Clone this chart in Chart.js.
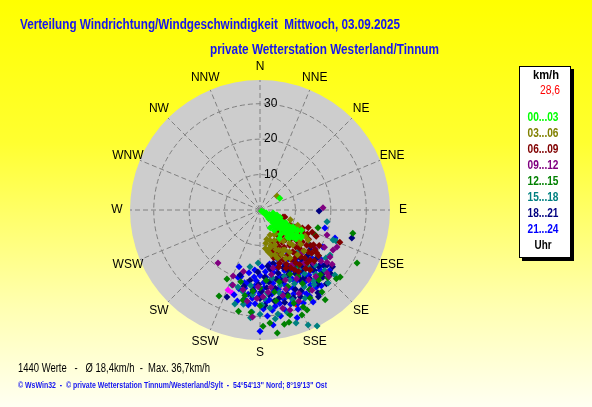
<!DOCTYPE html>
<html lang="de">
<head>
    <meta charset="UTF-8">
    <title>Verteilung Windrichtung/Windgeschwindigkeit</title>
    <style>
        html, body { margin: 0; padding: 0; background: #ffffe8; overflow: hidden; }
        #windChart { display: block; }
    </style>
    <script src="https://cdn.jsdelivr.net/npm/chart.js"></script>
</head>
<body>
    <canvas id="windChart" width="592" height="407"></canvas>
    <script>
        // Werte: [Richtung in Grad, Geschwindigkeit in km/h], je 3-Stunden-Block
        const h00_03 = [[120,0.5],[125,1],[118,1.5],[130,2],[122,2.5],[115,3],[128,3],[135,3.5],[120,4],[112,4.5],
            [126,4.5],[132,5],[118,5.5],[124,6],[110,6],[130,6.5],[138,6],[121,7],[127,7.5],[116,8],
            [133,8],[122,8.5],[128,9],[119,9.5],[125,10],[131,10.5],[121,11],[127,11.5],[118,12],[124,12.5],
            [129,13],[122,13.8],[140,9],[145,7],[150,5.8],[106,5],[103,3.8],[59,6.5],[135,11],[145.5,9.7],
            [115,2],[125,2],[120,3],[132,3],[117,4],[124,4],[130,4],[114,5],[121,5],[128,5.5],
            [135,5],[116,6.5],[123,6.5],[134,7],[118,7],[125,8],[130,8.5],[120,9],[126,9.5],[132,9.5],
            [117,10.5],[123,10.5],[128,10.8],[120,12],[126,12.8],[116,13],[124,14],[119,11.5],[130,12],[133,11.5]];
        const h03_06 = [[50.5,6.2],[158,7.6],[157,10.7],[169,12],[146,10.2],[123,7.7],[116.6,12.6],[120,14.7],[161.6,13.4],[148,13.3],
            [150,8],[162,9],[165,11],[155,12.5],[140,9],[135,11],[128,8.5],[118,10],[112,11.5],[125,13],
            [130,15],[145,14.5],[152,15.5],[138,12.5],[160,14.5],[142,7],[170,9.5],[122,16],[133,17],[108,9],
            [147,8],[155,9.5],[163,10.5],[158,12],[150,13],[143,11],[137,13.5],[132,10],[126,11],[120,12],
            [115,13],[166,13],[154,14],[148,16],[140,16.5],[128,14],[172,11],[167,8.5]];
        const h06_09 = [[135,6],[116.6,9.5],[119,14.5],[140,11],[131,15],[126,19.2],[156,13.9],[144,16.8],[135,20],[161,10.4],
            [112,24.3],[105.6,7.3],[113,16],[107,6.8],[116.6,13.3],[120,8],[125,9],[130,8.5],[138,9.5],[145,9],
            [150,10],[122,11],[128,11.5],[134,12],[140,13],[147,12.5],[153,11.5],[158,12.5],[118,12.5],[124,13.5],
            [130,13.5],[136,14.5],[142,15],[149,15],[155,15.5],[121,16],[127,16.5],[133,17],[139,17.5],[146,18],
            [152,18.5],[130,19],[138,20],[123,18],[117,15],[164,14],[160,16],[148,20.5],[142,21],[128,21],
            [119,10],[126,10.5],[132,10],[139,11],[146,11],[152,13],[157,14],[162,12],[120,14],[127,15],
            [134,15.5],[141,16],[148,16.5],[154,17],[125,17.5],[131,18],[137,18.5],[144,19],[150,19.5],[121,19.5],
            [127,20],[133,21],[140,22],[115,17.5],[116,11],[122,9.5],[129,7],[136,7.5],[143,8],[113,13],
            [156,18],[162,17],[134,9],[110,14.5]];
        const h09_12 = [[218.4,19.1],[202.2,20.1],[184,30.3],[174.4,23.3],[163.3,29.5],[133.2,26],[123.9,23.8],[135,21.2],[167.4,16.8],[88,17.8],
            [115.7,24.1],[118.7,23.5],[110.5,20.2],[129.5,14.7],[181.5,21.7],[200,22.5],[150,18],[160,21],[170,18.5],[145,24],
            [155,26],[165,25],[178,24.5],[188,26],[195,18],[140,19.5],[125,19],[142,21],[152,22],[162,23.5],
            [172,22],[182,25],[192,23],[147,27],[157,28],[167,28.5],[130,22.5],[120,21],[127,25.5],[137,17],
            [134,27],[140,24.5],[128,24]];
        const h12_15 = [[205.6,21.6],[205.5,26.9],[192,29.2],[172,35.1],[165.5,32.7],[164,30.8],[158.2,31.9],[154.8,31.2],[150.4,28.6],[144,31.3],
            [142.9,29],[129.9,29.5],[118.6,31.2],[190.7,25.9],[107,17.1],[104,27],[178.5,32.8],[139.9,25.8],[114.4,17.1],[155,20],
            [165,21],[175,20],[185,23],[150,24],[170,26],[160,28],[145,19],[195,21],[180,27],[140,22],
            [150,21.5],[160,23],[170,23.5],[180,22],[190,24.5],[135,27],[148,26.5],[162,25.5],[156,30],[168,33],
            [175,32],[185,29],[137,25],[132,29]];
        const h15_18 = [[182,15],[200.5,22.6],[196,22.6],[180,29.4],[174.2,27.8],[170.2,29.8],[157.3,35.2],[153.8,36.5],[122.7,23.5],[137,28.2],
            [100,19.2],[112.2,23.2],[178.8,26.8],[190,16.3],[112.3,22.3],[162.3,33.5],[184.5,28.9],[150,19],[160,20],[170,19.5],
            [145,22],[155,23],[165,22],[175,23.5],[185,24],[192,23.5],[140,21],[150,25],[160,27],[130,19],
            [125,17],[138,16],[195,27.5],[147,20],[157,21.5],[167,24],[177,25],[187,21.5],[143,25],[135,22],
            [128,21],[153,28],[165,30],[172,31],[185,30.5],[190,27],[133,25],[139,24],[126,23],[144,26],
            [131,28]];
        const h18_21 = [[140,18],[146,17],[152,18],[158,17.5],[164,18.5],[170,17],[176,19],[182,17.5],[188,20],[145,21],
            [151,20.5],[157,20],[163,21],[169,22.5],[175,22],[181,21],[138,23],[144,24],[150,22.5],[156,24.5],
            [162,25],[168,25.5],[174,24],[180,25],[148,26.5],[155,27],[137,26],[91,16.7],[107,27.1],[135,25.2],
            [197,19.2],[185,22.7],[200.8,26.3],[129.4,24.5],[130,21],[127,18],[143,20],[149,18.5],[155,19],[161,20],
            [167,20],[173,20.5],[179,23],[186,24],[141,25.5],[147,23],[153,25.5],[159,26.5],[165,27],[171,26],
            [177,27],[134,23],[132,27],[138,28],[145,28.5],[192,22],[160,16],[166,15.5],[172,16],[131,24],
            [136,21.5],[139,19],[133,18.5],[142,26.5],[128,26],[146,29.5]];
        const h21_24 = [[150,16],[155,17],[160,15],[165,16.5],[170,15.5],[145,18],[152,19],[158,18.5],[163,19.5],[168,18],
            [175,17.5],[180,18.5],[185,19],[190,18],[140,20],[148,21],[155,21.5],[162,22],[170,21],[177,20.5],
            [184,21.5],[192,21],[198,20],[143,23],[150,23.5],[157,24],[165,24.5],[172,24],[180,23.5],[188,24],
            [195,23],[146,25.5],[153,26],[160,26.5],[168,27],[176,26],[183,26.5],[190,25.5],[197,25],[150,28],
            [158,28.5],[166,29],[173,28.5],[140,25],[137,22],[133,20],[200.2,17.1],[180,34.2],[161,32.2],[186.7,26.4],
            [120.4,20.6],[131.6,23.4],[173.5,32.7],[105.5,19],[110.5,22.6],[142,17],[147,14.5],[161,13.5],[142,19],[149,19.5],
            [156,20],[163,20.5],[170,19.5],[177,22],[184,23],[191,22.5],[146,22.5],[153,22.5],[160,23.5],[167,23],
            [174,25.5],[181,24.5],[187,27],[194,26.5],[144,27],[151,27],[158,25.5],[165,26],[171,27.5],[178,28],
            [185,25],[162,28],[155,29],[148,24],[139,22.5],[135,24],[190,21],[196,19.5],[170,23],[175,19],
            [157,17.5],[164,17],[171,16.5],[178,16],[185,17],[166,20],[183,20],[159,30],[169,30.5],[176,30],
            [135,21],[138,25],[141,27.5],[132,23],[136,19],[129,22],[144,29],[147,18],[131,26],[150,30]];
        const latest = [[201.8,24.3],[198.6,24.7],[166.3,22.7],[169.5,26.4]];
        const current = [[159,28.6]];

        const hourLabels = ['00...03','03...06','06...09','09...12','12...15','15...18','18...21','21...24'];
        const hourSeries = [h00_03, h03_06, h06_09, h09_12, h12_15, h15_18, h18_21, h21_24];
        const dirLabels = ['N','NNE','NE','ENE','E','ESE','SE','SSE','S','SSW','SW','WSW','W','WNW','NW','NNW'];
        const ringTicks = [10, 20, 30];
        const maxSpeed = 36.7;
        const meanSpeed = '18,4';
        const maxText = '36,7';
        const valueCount = 1440;
        const currentText = '28,6';

        const hourColors = ['#00ff00','#808000','#800000','#800080','#008000','#008080','#000080','#0000ff'];
        const FONT = "'Liberation Sans', Arial, sans-serif";

        function toXY(list) {
            return list.map(([dir, spd]) => {
                const a = dir * Math.PI / 180;
                return { x: spd * Math.sin(a), y: spd * Math.cos(a) };
            });
        }

        function fitText(ctx, text, x, y, width, align) {
            const w = ctx.measureText(text).width;
            ctx.save();
            ctx.translate(x, y);
            ctx.scale(width / w, 1);
            ctx.textAlign = align;
            ctx.fillText(text, 0, 0);
            ctx.restore();
        }

        const datasets = hourSeries.map((s, i) => ({
            label: hourLabels[i],
            data: toXY(s),
            backgroundColor: hourColors[i],
            borderWidth: 0,
            pointStyle: 'rectRot',
            pointRadius: 3.5
        }));
        datasets.push({ label: 'latest', data: toXY(latest), backgroundColor: '#ff00ff', borderWidth: 0, pointStyle: 'rectRot', pointRadius: 3.5 });
        datasets.push({ label: 'aktuell', data: toXY(current), backgroundColor: '#ff0000', borderWidth: 0, pointStyle: 'rectRot', pointRadius: 3.5 });

        const polarGrid = {
            id: 'polarGrid',
            beforeDraw(chart) {
                const ctx = chart.ctx;
                const xs = chart.scales.x, ys = chart.scales.y;
                const cx = xs.getPixelForValue(0), cy = ys.getPixelForValue(0);
                const R = xs.getPixelForValue(maxSpeed) - cx;

                // background
                const g = ctx.createLinearGradient(0, 0, 0, chart.height);
                g.addColorStop(0, '#ffff00');
                g.addColorStop(0.35, '#ffff30');
                g.addColorStop(0.75, '#ffffb0');
                g.addColorStop(1, '#fffff2');
                ctx.fillStyle = g;
                ctx.fillRect(0, 0, chart.width, chart.height);

                // disk
                ctx.fillStyle = '#cdcdcd';
                ctx.beginPath();
                ctx.arc(cx, cy, R, 0, Math.PI * 2);
                ctx.fill();

                // grid
                ctx.save();
                ctx.strokeStyle = '#808080';
                ctx.lineWidth = 1;
                ctx.setLineDash([5, 3]);
                ringTicks.forEach(t => {
                    ctx.beginPath();
                    ctx.arc(cx, cy, xs.getPixelForValue(t) - cx, 0, Math.PI * 2);
                    ctx.stroke();
                });
                dirLabels.forEach((d, i) => {
                    const a = i * 22.5 * Math.PI / 180;
                    ctx.beginPath();
                    ctx.moveTo(cx, cy);
                    ctx.lineTo(cx + R * Math.sin(a), cy - R * Math.cos(a));
                    ctx.stroke();
                });
                ctx.restore();

                // compass labels
                ctx.fillStyle = '#000';
                ctx.font = '12px ' + FONT;
                ctx.textAlign = 'center';
                ctx.textBaseline = 'middle';
                dirLabels.forEach((d, i) => {
                    const a = i * 22.5 * Math.PI / 180;
                    ctx.fillText(d, cx + (R + 13) * Math.sin(a), cy - (R + 13) * Math.cos(a));
                });

                // ring labels
                ctx.textAlign = 'left';
                ringTicks.forEach(t => {
                    ctx.fillText(String(t), cx + 4, cy - (xs.getPixelForValue(t) - cx));
                });
            },
            afterDraw(chart) {
                const ctx = chart.ctx;
                ctx.textBaseline = 'middle';

                // titles
                ctx.fillStyle = '#1515f0';
                ctx.font = 'bold 14px ' + FONT;
                fitText(ctx, 'Verteilung Windrichtung/Windgeschwindigkeit  Mittwoch, 03.09.2025', 20, 25, 380, 'left');
                fitText(ctx, 'private Wetterstation Westerland/Tinnum', 210, 50, 229, 'left');

                // legend box
                ctx.fillStyle = '#000';
                ctx.fillRect(522, 69, 52, 192);
                ctx.fillStyle = '#fff';
                ctx.fillRect(519, 66, 52, 192);
                ctx.strokeStyle = '#000';
                ctx.lineWidth = 1;
                ctx.strokeRect(519.5, 66.5, 51, 191);

                ctx.fillStyle = '#000';
                ctx.font = 'bold 12px ' + FONT;
                fitText(ctx, 'km/h', 546, 76, 26, 'center');
                ctx.fillStyle = '#ff0000';
                ctx.font = '12px ' + FONT;
                fitText(ctx, currentText, 560, 91, 20, 'right');
                ctx.font = 'bold 12px ' + FONT;
                hourLabels.forEach((h, i) => {
                    ctx.fillStyle = hourColors[i];
                    fitText(ctx, h, 543, 118 + i * 16, 31, 'center');
                });
                ctx.fillStyle = '#000';
                fitText(ctx, 'Uhr', 543, 246, 17, 'center');

                // bottom texts
                ctx.fillStyle = '#000';
                ctx.font = '12px ' + FONT;
                fitText(ctx, valueCount + ' Werte   -   \u00d8 ' + meanSpeed + 'km/h  -  Max. ' + maxText + 'km/h', 18, 369, 192, 'left');
                ctx.fillStyle = '#1515f0';
                ctx.font = 'bold 9px ' + FONT;
                fitText(ctx, '\u00a9 WsWin32  -  \u00a9 private Wetterstation Tinnum/Westerland/Sylt  -  54\u00b054\'13\'\' Nord; 8\u00b019\'13\'\' Ost', 18, 386, 309, 'left');
            }
        };

        new Chart(document.getElementById('windChart'), {
            type: 'scatter',
            data: { datasets: datasets },
            options: {
                responsive: false,
                animation: false,
                devicePixelRatio: 1,
                layout: { padding: { left: 130, right: 202, top: 80, bottom: 67 } },
                scales: {
                    x: { type: 'linear', min: -maxSpeed, max: maxSpeed, display: false },
                    y: { type: 'linear', min: -maxSpeed, max: maxSpeed, display: false }
                },
                plugins: {
                    legend: { display: false },
                    tooltip: { enabled: false }
                }
            },
            plugins: [polarGrid]
        });
    </script>
</body>
</html>
